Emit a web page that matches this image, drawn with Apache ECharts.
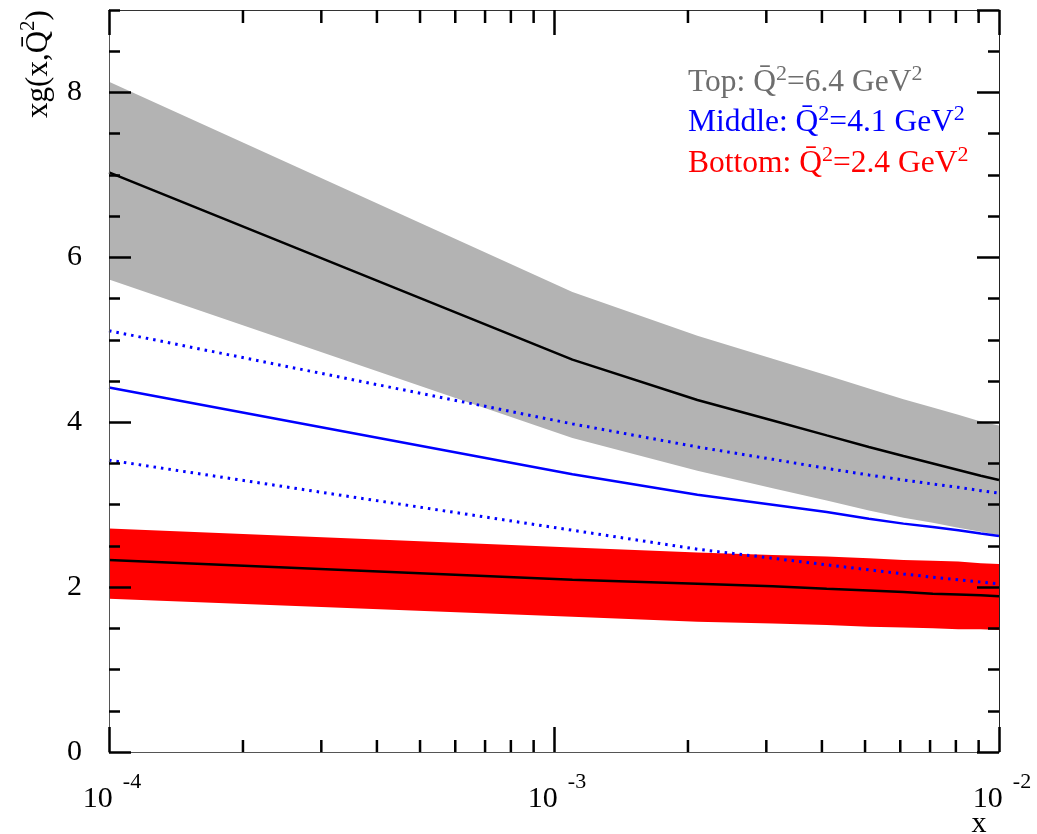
<!DOCTYPE html>
<html>
<head>
<meta charset="utf-8">
<script src="https://cdn.jsdelivr.net/npm/echarts@6/dist/echarts.min.js"></script>
<style>
  html, body { margin: 0; padding: 0; background: #fff; }
  #chart { width: 1037px; height: 834px; }
</style>
</head>
<body>
<div id="chart"></div>
<script>
// x grid shared by all curves
const xGrid = [1e-4, 1.1e-3, 2.1e-3, 3.1e-3, 4.1e-3, 5.1e-3, 6.1e-3, 7.1e-3, 8.1e-3, 9.1e-3, 1e-2];

// Top: Q^2 = 6.4 GeV^2 (band + central curve)
const topUpper   = [8.13, 5.58, 5.05, 4.77, 4.57, 4.41, 4.28, 4.18, 4.09, 4.01, 3.96];
const topLower   = [5.73, 3.81, 3.41, 3.20, 3.05, 2.93, 2.84, 2.78, 2.72, 2.67, 2.63];
const topCentral = [7.03, 4.76, 4.27, 4.02, 3.84, 3.70, 3.59, 3.50, 3.42, 3.35, 3.30];

// Middle: Q^2 = 4.1 GeV^2 (central + dotted error curves)
const midCentral = [4.42, 3.37, 3.12, 3.00, 2.91, 2.83, 2.77, 2.73, 2.69, 2.65, 2.62];
const midUpper   = [5.11, 3.98, 3.70, 3.55, 3.44, 3.36, 3.30, 3.25, 3.21, 3.17, 3.14];
const midLower   = [3.54, 2.69, 2.46, 2.35, 2.27, 2.21, 2.16, 2.12, 2.09, 2.06, 2.04];

// Bottom: Q^2 = 2.4 GeV^2 (band + central curve)
const botUpper   = [2.71, 2.48, 2.42, 2.39, 2.37, 2.35, 2.33, 2.32, 2.31, 2.29, 2.28];
const botLower   = [1.86, 1.64, 1.58, 1.56, 1.54, 1.52, 1.51, 1.50, 1.49, 1.49, 1.48];
const botCentral = [2.33, 2.09, 2.04, 2.01, 1.98, 1.96, 1.94, 1.92, 1.91, 1.90, 1.89];

// axis ranges and ticks
const xMin = 1e-4, xMax = 1e-2;
const yMin = 0, yMax = 9;
const yMajor = 2, yMinor = 0.5;
const xMinorTicks = [2e-4, 3e-4, 4e-4, 5e-4, 6e-4, 7e-4, 8e-4, 9e-4,
                     2e-3, 3e-3, 4e-3, 5e-3, 6e-3, 7e-3, 8e-3, 9e-3];

const FONT = 'Liberation Serif';
const GRAY_TXT = '#6e6e6e';

function pairs(ys) { return xGrid.map((x, i) => [x, ys[i]]); }

function bandSeries(upper, lower, color) {
  return {
    type: 'custom', z: 1, silent: true,
    xAxisIndex: 0, yAxisIndex: 0,
    data: [[xGrid[0], upper[0]]],
    renderItem: function (params, api) {
      const pts = [];
      for (let i = 0; i < xGrid.length; i++) pts.push(api.coord([xGrid[i], upper[i]]));
      for (let i = xGrid.length - 1; i >= 0; i--) pts.push(api.coord([xGrid[i], lower[i]]));
      return { type: 'polygon', shape: { points: pts }, style: { fill: color } };
    }
  };
}

function lineSeries(ys, color, dotted) {
  return {
    type: 'line', z: 2, silent: true,
    xAxisIndex: 0, yAxisIndex: 0,
    showSymbol: false, symbol: 'none',
    data: pairs(ys),
    lineStyle: dotted
      ? { color: color, width: 3, type: [2.5, 5], cap: 'butt' }
      : { color: color, width: 2.5, type: 'solid' }
  };
}

const tickStyle = { color: '#000', width: 2.5 };

function yAxisDef(pos, interval, len, labels, lineColor) {
  return {
    type: 'value', position: pos, min: yMin, max: yMax, interval: interval, z: 3,
    axisLine: { show: !!lineColor, onZero: false, lineStyle: { color: lineColor || '#000', width: 1 } },
    axisTick: { show: true, inside: true, length: len, lineStyle: tickStyle },
    axisLabel: labels ? {
      show: true, showMaxLabel: false, margin: 27,
      fontFamily: FONT, fontSize: 30, color: '#000'
    } : { show: false },
    splitLine: { show: false }
  };
}

function legendText(label, q2, color, top) {
  return {
    type: 'text', x: 688, y: top,
    style: {
      text: '{n|' + label + 'Q\u0304}{s|2}{n|=' + q2 + ' GeV}{s|2}',
      align: 'left', verticalAlign: 'top',
      rich: {
        n: { fontFamily: FONT, fontSize: 31.5, fill: color, lineHeight: 36, verticalAlign: 'bottom' },
        s: { fontFamily: FONT, fontSize: 22, fill: color, lineHeight: 14, verticalAlign: 'top' }
      }
    }
  };
}

const chart = echarts.init(document.getElementById('chart'), null, { renderer: 'canvas' });

chart.setOption({
  animation: false,
  backgroundColor: '#fff',
  grid: { left: 109, right: 38, top: 10, bottom: 82, containLabel: false },
  xAxis: [
    {
      type: 'log', logBase: 10, min: xMin, max: xMax, position: 'bottom', z: 3,
      axisLine: { show: true, onZero: false, lineStyle: { color: '#555', width: 1 } },
      axisTick: { show: true, inside: true, length: 25, lineStyle: tickStyle },
      axisLabel: {
        show: true, margin: 19, showMinLabel: true, showMaxLabel: true,
        formatter: function (v) {
          const e = Math.round(Math.log10(v));
          return '{b|10}{e|' + e + '}';
        },
        rich: {
          b: { fontFamily: FONT, fontSize: 30, color: '#000', lineHeight: 43, verticalAlign: 'bottom', padding: [0, 0, 0, 6] },
          e: { fontFamily: FONT, fontSize: 22, color: '#000', lineHeight: 16, verticalAlign: 'top', padding: [0, 0, 0, 10] }
        }
      },
      splitLine: { show: false }
    },
    {
      type: 'log', logBase: 10, min: xMin, max: xMax, position: 'top', z: 3,
      axisLine: { show: true, onZero: false, lineStyle: { color: '#333', width: 1 } },
      axisTick: { show: true, inside: true, length: 25, lineStyle: tickStyle },
      axisLabel: { show: false },
      splitLine: { show: false }
    }
  ],
  yAxis: [
    yAxisDef('left', yMajor, 22, true, '#555'),
    yAxisDef('left', yMinor, 11, false, null),
    yAxisDef('right', yMajor, 22, false, '#222'),
    yAxisDef('right', yMinor, 11, false, null)
  ],
  series: [
    bandSeries(topUpper, topLower, '#b3b3b3'),
    bandSeries(botUpper, botLower, '#ff0000'),
    lineSeries(topCentral, '#000', false),
    lineSeries(midUpper, '#0000ff', true),
    lineSeries(midCentral, '#0000ff', false),
    lineSeries(midLower, '#0000ff', true),
    lineSeries(botCentral, '#000', false),
    {
      // log-spaced minor ticks on the bottom and top x axes
      type: 'custom', z: 4, silent: true,
      xAxisIndex: 0, yAxisIndex: 0,
      data: xMinorTicks.map(v => [v, yMin]),
      renderItem: function (params, api) {
        const v = api.value(0);
        const b = api.coord([v, yMin]);
        const t = api.coord([v, yMax]);
        return {
          type: 'group',
          children: [
            { type: 'line', shape: { x1: b[0], y1: b[1], x2: b[0], y2: b[1] - 12 }, style: { stroke: '#000', lineWidth: 2.5 } },
            { type: 'line', shape: { x1: t[0], y1: t[1], x2: t[0], y2: t[1] + 13 }, style: { stroke: '#000', lineWidth: 2.5 } }
          ]
        };
      }
    }
  ],
  graphic: [
    {
      type: 'text', x: 36, y: 64, rotation: Math.PI / 2,
      style: {
        text: '{n|xg(x,Q\u0304}{s|2}{n|)}',
        align: 'center', verticalAlign: 'middle',
        rich: {
          n: { fontFamily: FONT, fontSize: 31, fill: '#000', lineHeight: 36, verticalAlign: 'bottom' },
          s: { fontFamily: FONT, fontSize: 21, fill: '#000', lineHeight: 14, verticalAlign: 'top' }
        }
      }
    },
    {
      type: 'text', x: 979, y: 824,
      style: { text: 'x', font: '30px "Liberation Serif"', fill: '#000', align: 'center', verticalAlign: 'middle' }
    },
    legendText('Top: ', '6.4', GRAY_TXT, 63),
    legendText('Middle: ', '4.1', '#0000ff', 103),
    legendText('Bottom: ', '2.4', '#ff0000', 144)
  ]
});
</script>
</body>
</html>
